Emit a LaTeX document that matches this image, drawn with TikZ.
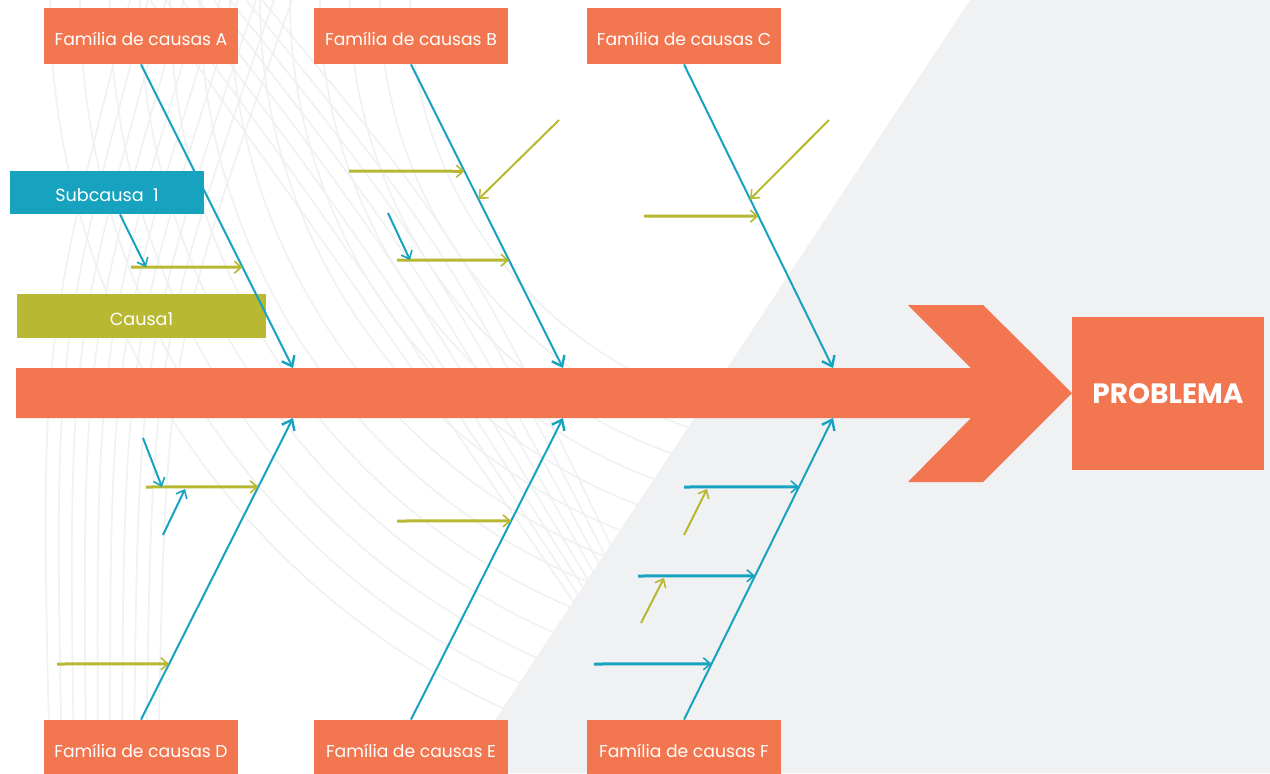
\documentclass[tikz,border=0pt]{standalone}
\usepackage{fontspec}
\setmainfont{Poppins}
\usetikzlibrary{arrows.meta}
\definecolor{laranja}{HTML}{F27650}
\definecolor{azul}{HTML}{17A3C0}
\definecolor{oliva}{HTML}{B8B832}
\definecolor{fundo}{HTML}{F0F1F3}
\definecolor{traco}{HTML}{F0F1F3}
\tikzset{
  familia/.style={fill=laranja,text=white,minimum width=97pt,minimum height=28pt,inner sep=0pt,
    text height=9pt,text depth=0pt,font=\fontsize{8.6pt}{11pt}\selectfont},
  caixa/.style={text=white,inner sep=0pt,text height=9pt,text depth=0pt,font=\fontsize{8.8pt}{11pt}\selectfont},
  espinha/.style={azul,line width=1pt,-{Straight Barb[length=4.5pt,width=7pt,line width=1.2pt]}},
  causaseta/.style={oliva,line width=1.5pt,-{Straight Barb[length=3.5pt,width=6pt,line width=0.8pt]}},
  diagseta/.style={line width=1pt,-{Straight Barb[length=3.5pt,width=6pt,line width=0.8pt]}},
  azulseta/.style={azul,line width=1.5pt,-{Straight Barb[length=3.5pt,width=6pt,line width=0.8pt]}},
  decor/.style={traco,line width=0.8pt}
}
\begin{document}
\begin{tikzpicture}[x=0.5pt,y=-0.5pt]
\useasboundingbox (0,0) rectangle (1270,773);
% fundo
\fill[white] (0,0) rectangle (1270,773);
\fill[fundo] (970,0) -- (1270,0) -- (1270,773) -- (460,773) -- cycle;
\begin{scope}
\clip (0,0) -- (970,0) -- (460,773) -- (0,773) -- cycle;
\foreach \r in {420,450,...,780}
  \draw[decor] (830,0) ++(180:\r) arc[start angle=180,end angle=90,radius=\r];
\foreach \i in {0,...,9}
  \draw[decor] (130+18*\i,0) .. controls (40+14*\i,350) .. (50+12*\i,773);
\foreach \i in {0,...,7}
  \draw[decor] (150+16*\i,0) .. controls (330+20*\i,250) .. (600+8*\i,640);
\end{scope}

% espinha principal
\fill[laranja] (16,368) -- (971,368) -- (908,305) -- (983,305) -- (1072,393)
  -- (983,482) -- (908,482) -- (971,418) -- (16,418) -- cycle;
\node[fill=laranja,minimum width=96pt,minimum height=76.5pt,inner sep=0pt,text=white,
  font=\fontsize{14pt}{16pt}\selectfont\bfseries] (prob) at (1168,393.5) {PROBLEMA};

% familias
\node[familia] (A) at (141,36) {Família de causas A};
\node[familia] (B) at (411,36) {Família de causas B};
\node[familia] (C) at (684,36) {Família de causas C};
\node[familia] (D) at (141,748) {Família de causas D};
\node[familia] (E) at (411,748) {Família de causas E};
\node[familia] (F) at (684,748) {Família de causas F};
\node[caixa,fill=azul,minimum width=97pt,minimum height=21.5pt] (sub) at (107,192.5) {Subcausa\ \ 1};
\node[caixa,fill=oliva,minimum width=124.5pt,minimum height=22pt] (causa) at (141.5,316) {Causa1};

% pontas na espinha
\coordinate (ta) at (293,368);
\coordinate (tb) at (563,368);
\coordinate (tc) at (833,368);
\coordinate (td) at (293,418);
\coordinate (te) at (563,418);
\coordinate (tf) at (833,418);
\draw[espinha] (A.south) -- (ta);
\draw[espinha] (B.south) -- (tb);
\draw[espinha] (C.south) -- (tc);
\draw[espinha] (D.north) -- (td);
\draw[espinha] (E.north) -- (te);
\draw[espinha] (F.north) -- (tf);

% pontos nas espinhas
\path (A.south) -- (ta) coordinate[pos=0.668] (a1);
\path (B.south) -- (tb) coordinate[pos=0.352] (b1) coordinate[pos=0.444] (b2) coordinate[pos=0.645] (b3);
\path (C.south) -- (tc) coordinate[pos=0.444] (c1) coordinate[pos=0.5] (c2);
\path (D.north) -- (td) coordinate[pos=0.772] (d1) coordinate[pos=0.185] (d2);
\path (E.north) -- (te) coordinate[pos=0.659] (e1);
\path (F.north) -- (tf) coordinate[pos=0.772] (f1) coordinate[pos=0.477] (f2) coordinate[pos=0.185] (f3);

% causas
\coordinate (a1s) at (131,267);
\coordinate (s1) at (146,267);
\draw[causaseta] (a1s) -- (a1);
\draw[diagseta,azul] ([xshift=6.5pt]sub.south) -- (s1);

\coordinate (b1s) at (349,171);
\coordinate (b2s) at (559,120);
\coordinate (b3s) at (397,260);
\coordinate (b4s) at (388,213);
\coordinate (b4) at (410,260);
\draw[causaseta] (b1s) -- (b1);
\draw[diagseta,oliva] (b2s) -- (b2);
\draw[causaseta] (b3s) -- (b3);
\draw[diagseta,azul] (b4s) -- (b4);

\coordinate (c1s) at (829,120);
\coordinate (c2s) at (644,216);
\draw[diagseta,oliva] (c1s) -- (c1);
\draw[causaseta] (c2s) -- (c2);

\coordinate (d1s) at (146,487);
\coordinate (d2s) at (57,664);
\coordinate (d3s) at (143,438);
\coordinate (d3) at (162,487);
\coordinate (d4s) at (163,535);
\coordinate (d4) at (185,489);
\draw[causaseta] (d1s) -- (d1);
\draw[causaseta] (d2s) -- (d2);
\draw[diagseta,azul] (d3s) -- (d3);
\draw[diagseta,azul] (d4s) -- (d4);

\coordinate (e1s) at (397,521);
\draw[causaseta] (e1s) -- (e1);

\coordinate (f1s) at (684,487);
\coordinate (f2s) at (638,576);
\coordinate (f3s) at (594,664);
\coordinate (f4s) at (684,535);
\coordinate (f4) at (707,489);
\coordinate (f5s) at (641,623);
\coordinate (f5) at (664,578);
\draw[azulseta] (f1s) -- (f1);
\draw[azulseta] (f2s) -- (f2);
\draw[azulseta] (f3s) -- (f3);
\draw[diagseta,oliva] (f4s) -- (f4);
\draw[diagseta,oliva] (f5s) -- (f5);
\end{tikzpicture}
\end{document}
